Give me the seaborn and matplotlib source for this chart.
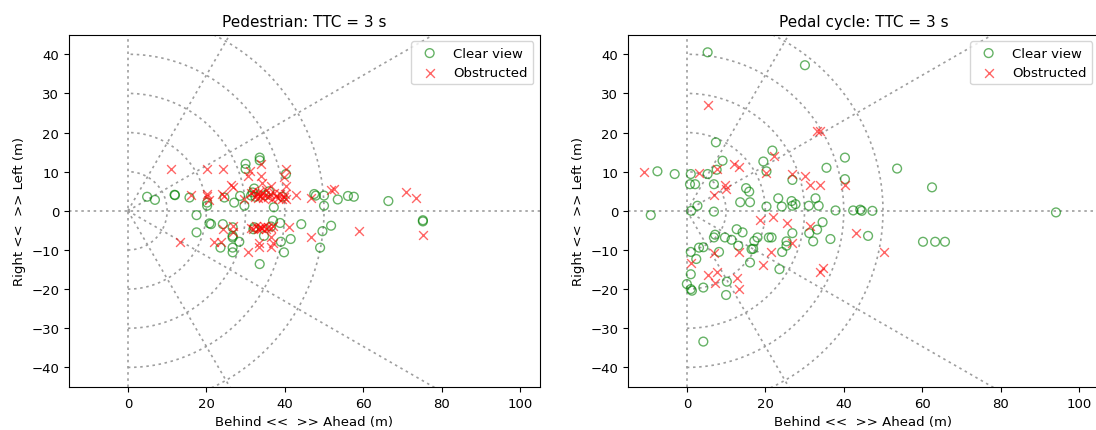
import numpy as np
import pandas as pd
import matplotlib
matplotlib.use("Agg")
import matplotlib.pyplot as plt
import seaborn as sns

# ---------------- data ----------------
titles = ["Pedestrian: TTC = 3 s", "Pedal cycle: TTC = 3 s"]
series_labels = ["Clear view", "Obstructed"]
x_label = "Behind <<  >> Ahead (m)"
y_label = "Right <<  >> Left (m)"
x_ticks = [0, 20, 40, 60, 80, 100]
y_ticks = [-40, -30, -20, -10, 0, 10, 20, 30, 40]
grid_radii = [10, 20, 30, 40, 50]
grid_angles = [-60, -30, 30, 60]

ped_clear_x = [4.9, 6.9, 11.9, 12.0, 15.7, 20.2, 20.2, 24.6, 27.1, 29.7, 28.6, 31.4,
               17.5, 20.8, 21.2, 24.2, 17.5, 26.7, 26.7, 26.7, 28.4, 26.7, 26.7, 23.6,
               30.0, 30.0, 33.6, 33.6, 32.2, 31.8, 32.5, 37.2, 39.4, 40.3, 35.0, 36.0,
               32.2, 32.0, 34.7, 37.0, 38.8, 39.0, 39.8, 41.5, 33.6, 44.2, 36.5,
               47.5, 47.9, 50.0, 50.0, 53.5, 56.1, 57.6, 66.4, 75.2, 75.2,
               49.6, 51.8, 49.0]
ped_clear_y = [3.6, 2.8, 4.1, 4.0, 3.4, 2.1, 1.3, 3.4, 2.1, 1.3, 3.8, 3.9,
               -1.1, -3.2, -3.4, -3.4, -5.5, -4.2, -6.4, -6.8, -7.9, -9.4, -10.6, -9.4,
               12.0, 10.7, 13.6, 12.9, 5.7, 4.7, 3.6, 0.9, 3.6, 9.4, 4.0, 5.0,
               -4.2, -4.7, -6.4, -2.5, -3.1, -7.9, -10.6, -7.2, -13.6, -3.4, -4.0,
               4.3, 3.9, 3.9, 1.3, 2.9, 3.8, 3.6, 2.5, -2.4, -2.7,
               -5.2, -3.8, -9.4]

ped_obs_x = [11.0, 20.2, 24.2, 40.2, 16.1, 20.2, 20.2, 20.8, 24.0, 26.3, 26.9, 29.7,
             30.5, 31.2, 33.9, 33.9, 34.3, 36.4, 39.8, 40.3, 42.8, 46.6, 51.9, 52.5,
             70.8, 73.5, 58.9, 75.2, 46.6, 13.4, 22.0, 23.7, 24.3, 26.7, 26.7, 30.5,
             33.5, 36.4, 36.4, 36.9, 33.5, 41.0, 24.6,
             31.5, 32.0, 32.3, 32.8, 33.2, 33.5, 33.8, 34.2, 34.5, 35.0, 35.3, 35.8,
             36.2, 36.8, 37.2, 37.8, 38.3, 38.8, 39.3, 39.8, 40.3, 40.0,
             31.4, 32.0, 32.6, 33.2, 33.7, 34.2, 34.8, 35.3, 35.8, 36.4, 37.0, 33.9]
ped_obs_y = [10.7, 10.7, 10.7, 10.6, 4.1, 4.4, 3.8, 2.7, 4.4, 6.7, 6.0, 3.0,
             9.0, 10.3, 12.0, 9.0, 7.0, 6.4, 8.7, 6.3, 4.1, 3.4, 5.2, 5.6,
             4.7, 3.3, -5.1, -6.1, -6.7, -7.9, -7.9, -7.9, -4.7, -3.8, -5.5, -10.6,
             -9.2, -9.3, -6.8, -8.1, -8.1, -4.1, 3.9,
             4.5, 5.0, 3.6, 4.2, 3.2, 4.8, 3.8, 4.5, 3.3, 4.0, 5.2, 3.5,
             4.3, 3.0, 4.6, 3.8, 3.2, 4.2, 3.0, 3.6, 3.0, 4.4,
             -4.3, -4.6, -3.9, -4.7, -4.2, -4.5, -3.9, -4.6, -4.2, -4.4, -4.0, -4.5]

cyc_clear_x = [5.3, 30.1, 7.4, -7.5, -3.1, 1.0, 5.3, 7.6, 9.1, 0.8, 2.1, 6.9, 2.7, 1.1,
               -9.2, 6.9, 15.1, 15.9, 13.6, 16.1, 21.8, 19.5, 20.3, 26.9, 20.3, 23.3,
               24.2, 26.7, 26.9, 27.7, 31.1, 32.8, 33.6, 35.6, 40.3, 40.3, 37.9, 42.4,
               44.2, 44.6, 47.3, 34.6, 33.2, 31.2, 32.2, 36.6, 46.2, 26.9, 25.4, 25.4,
               24.3, 20.9, 21.6, 18.0, 17.2, 16.5, 16.9, 16.1, 14.2, 12.7, 13.1, 11.4,
               9.7, 7.2, 6.9, 8.2, 4.2, 3.1, 1.0, 2.4, 1.0, 0.0, 1.0, 1.3, 4.2, 10.2,
               10.0, 23.6, 4.2, 53.6, 62.5, 94.1, 60.2, 63.3, 65.8]
cyc_clear_y = [40.5, 37.2, 17.5, 10.1, 9.4, 9.4, 9.4, 10.5, 12.8, 6.8, 6.8, 6.8, 1.3, 0.0,
               -1.1, -0.2, 5.8, 4.9, 2.2, 2.2, 15.4, 12.6, 10.1, 7.9, 1.1, 3.2,
               1.1, 2.5, 1.3, 1.7, 1.3, 3.2, 1.3, 11.0, 13.6, 8.1, 0.1, 0.1,
               0.3, 0.0, 0.0, -2.9, -4.8, -5.7, -7.8, -7.2, -6.4, -5.7, -7.8, -8.9,
               -10.5, -6.8, -6.8, -6.8, -7.7, -9.8, -9.7, -13.2, -5.5, -4.7, -8.9, -7.4,
               -6.8, -6.1, -6.8, -10.5, -9.3, -9.4, -10.5, -12.3, -16.2, -18.7, -20.0, -20.4, -19.6, -18.1,
               -21.5, -14.9, -33.4, 10.8, 6.0, -0.4, -7.9, -7.9, -7.9]

cyc_obs_x = [-11.0, 3.1, 7.8, 5.5, 11.9, 13.4, 9.7, 10.0, 6.9, 20.3, 22.2, 26.7, 30.1,
             31.4, 33.9, 40.3, 33.3, 33.9, 18.6, 22.0, 25.6, 31.4, 26.9, 21.4, 13.4,
             6.8, 1.0, 5.5, 7.6, 7.2, 12.7, 13.3, 19.3, 33.9, 34.7, 43.2, 50.2]
cyc_obs_y = [9.8, 9.6, 10.8, 27.0, 11.9, 11.1, 6.7, 5.6, 4.1, 9.6, 14.1, 9.4, 9.0,
             6.7, 6.7, 6.7, 20.5, 20.4, -2.3, -1.5, -3.1, -4.0, -8.3, -10.5, -10.5,
             -10.8, -13.2, -16.3, -15.5, -18.5, -17.2, -20.0, -13.8, -15.5, -14.7, -5.7, -10.6]

panels = [
    (ped_clear_x, ped_clear_y, ped_obs_x, ped_obs_y),
    (cyc_clear_x, cyc_clear_y, cyc_obs_x, cyc_obs_y),
]

# ---------------- figure ----------------
fig = plt.figure(figsize=(10.96, 4.31), dpi=100)
ax_rects = [[0.063, 0.0998, 0.4295, 0.8174], [0.573, 0.0998, 0.4295, 0.8174]]

grid_kw = dict(color="0.62", linestyle=(0, (1.5, 2.2)), linewidth=1.2, zorder=0.5)

for rect, title, (cx, cy, ox, oy) in zip(ax_rects, titles, panels):
    ax = fig.add_axes(rect)
    # polar-style guide grid
    th = np.linspace(-np.pi / 2, np.pi / 2, 300)
    for r in grid_radii:
        ax.plot(r * np.cos(th), r * np.sin(th), **grid_kw)
    for a in grid_angles:
        t = np.deg2rad(a)
        ax.plot([0, 200 * np.cos(t)], [0, 200 * np.sin(t)], **grid_kw)
    ax.axhline(0, **grid_kw)
    ax.axvline(0, **grid_kw)

    dfc = pd.DataFrame({"x": cx, "y": cy})
    dfo = pd.DataFrame({"x": ox, "y": oy})
    sns.scatterplot(data=dfc, x="x", y="y", ax=ax, marker="o", s=40,
                    facecolor="none", edgecolor="green", linewidth=1.0,
                    alpha=0.6, label=series_labels[0], zorder=2)
    sns.scatterplot(data=dfo, x="x", y="y", ax=ax, marker="x", s=40,
                    color="red", linewidth=1.0, alpha=0.6,
                    label=series_labels[1], zorder=3)

    ax.set_xlim(-15, 105)
    ax.set_ylim(-45, 45)
    ax.set_xticks(x_ticks)
    ax.set_yticks(y_ticks)
    ax.tick_params(labelsize=9.5)
    ax.set_title(title, fontsize=11)
    ax.set_xlabel(x_label, fontsize=9.5)
    ax.set_ylabel(y_label, fontsize=9.5)
    ax.legend(loc="upper right", fontsize=9.5)

fig.savefig("out.png", dpi=100)
